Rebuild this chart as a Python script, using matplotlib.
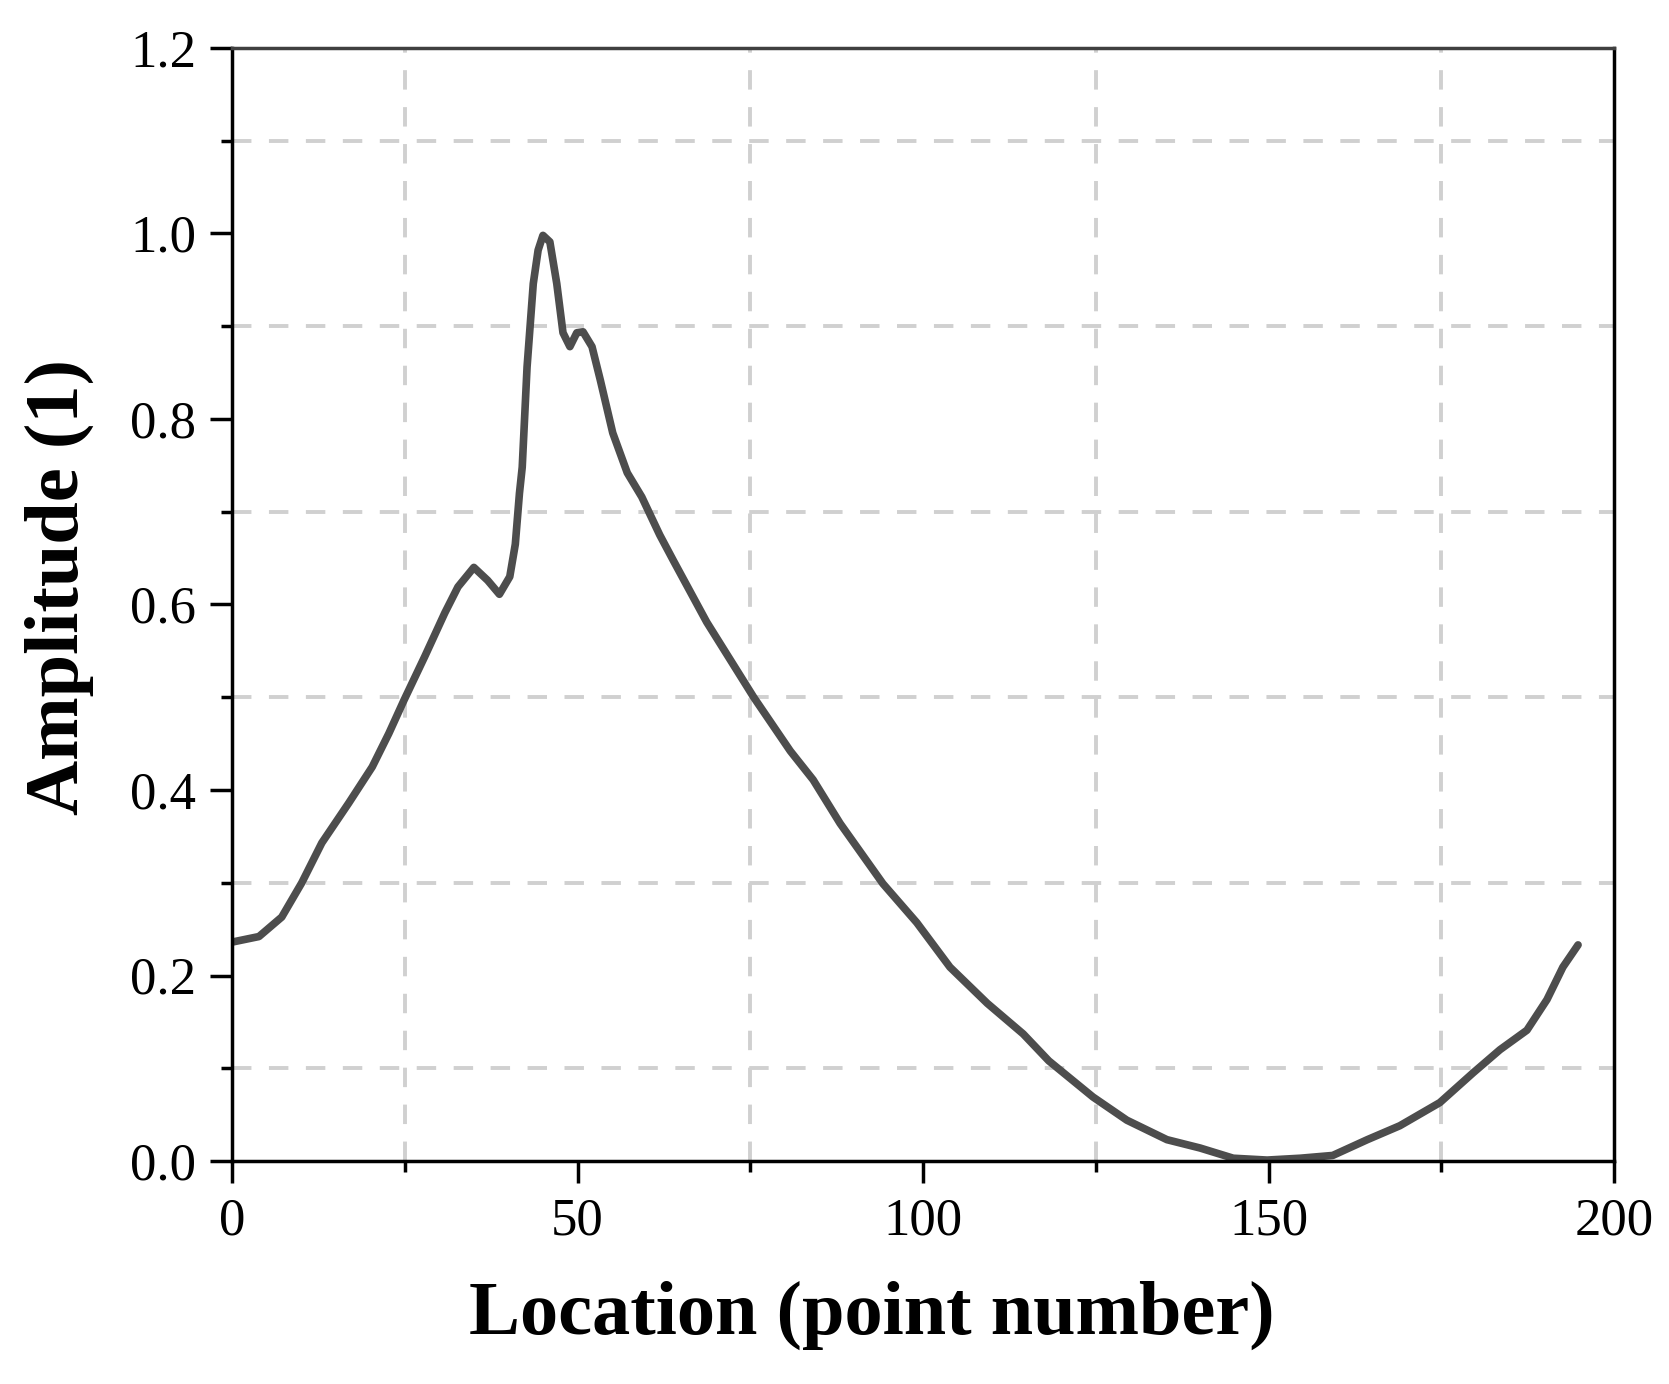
import matplotlib

matplotlib.use("Agg")
import matplotlib.pyplot as plt
from matplotlib.ticker import MultipleLocator

# ── Data ─────────────────────────────────────────────────────────────────────
location = [0, 3.9, 7.2, 10.1, 13.0, 16.9, 20.3, 22.7, 24.9, 27.9, 30.8, 32.7,
            35.0, 37.0, 38.7, 40.2, 41.0, 41.6, 42.0, 42.7, 43.6, 44.3, 45.0,
            46.0, 47.0, 47.9, 48.9, 49.9, 50.8, 52.1, 53.3, 55.1, 57.2, 59.3,
            61.9, 63.9, 68.7, 75.5, 80.8, 84.1, 88.0, 94.2, 99.1, 103.9,
            109.3, 114.5, 118.2, 124.6, 129.5, 135.3, 140.1, 144.9, 149.8,
            154.6, 159.3, 164.3, 169.0, 174.8, 179.6, 183.5, 187.4, 190.3,
            192.6, 194.8]
amplitude = [0.236, 0.242, 0.263, 0.300, 0.343, 0.386, 0.425, 0.461, 0.497,
             0.544, 0.591, 0.619, 0.640, 0.626, 0.611, 0.630, 0.665, 0.720,
             0.748, 0.856, 0.946, 0.982, 0.998, 0.991, 0.946, 0.893, 0.878,
             0.893, 0.894, 0.878, 0.842, 0.785, 0.742, 0.716, 0.675, 0.647,
             0.581, 0.500, 0.442, 0.411, 0.364, 0.299, 0.257, 0.209, 0.170,
             0.137, 0.108, 0.069, 0.044, 0.023, 0.014, 0.003, 0.001, 0.003,
             0.006, 0.023, 0.038, 0.063, 0.095, 0.120, 0.141, 0.174, 0.209,
             0.233]

plt.rcParams["font.family"] = ["Liberation Serif", "DejaVu Serif"]

fig = plt.figure(figsize=(16.69, 13.84), dpi=100)
ax = fig.add_axes([232 / 1669, 1 - 1161 / 1384, (1614 - 232) / 1669, (1161 - 48) / 1384])

ax.plot(location, amplitude, color="#4d4d4d", lw=5.5, solid_joinstyle="round",
        solid_capstyle="round")

ax.set_xlim(0, 200)
ax.set_ylim(0, 1.2)
ax.xaxis.set_major_locator(MultipleLocator(50))
ax.xaxis.set_minor_locator(MultipleLocator(25))
ax.yaxis.set_major_locator(MultipleLocator(0.2))
ax.yaxis.set_minor_locator(MultipleLocator(0.1))
ax.yaxis.set_major_formatter(lambda v, p: f"{v:.1f}")

ax.grid(which="minor", color="#d0d0d0", ls=(0, (5, 4.5)), lw=2.8)
ax.grid(which="major", visible=False)

ax.tick_params(which="major", direction="out", length=16, width=2.5,
               labelsize=38, pad=10)
ax.tick_params(which="minor", direction="out", length=8, width=2.5)

for s in ax.spines.values():
    s.set_linewidth(2.5)
    s.set_color("black")
ax.spines["top"].set_color("#404040")

ax.set_xlabel("Location (point number)", fontsize=55, fontweight="bold")
ax.set_ylabel("Amplitude (1)", fontsize=55, fontweight="bold")
ax.xaxis.set_label_coords(0.463, -0.108)
ax.yaxis.set_label_coords(-0.100, 0.516)

fig.savefig("out.png", dpi=100)
